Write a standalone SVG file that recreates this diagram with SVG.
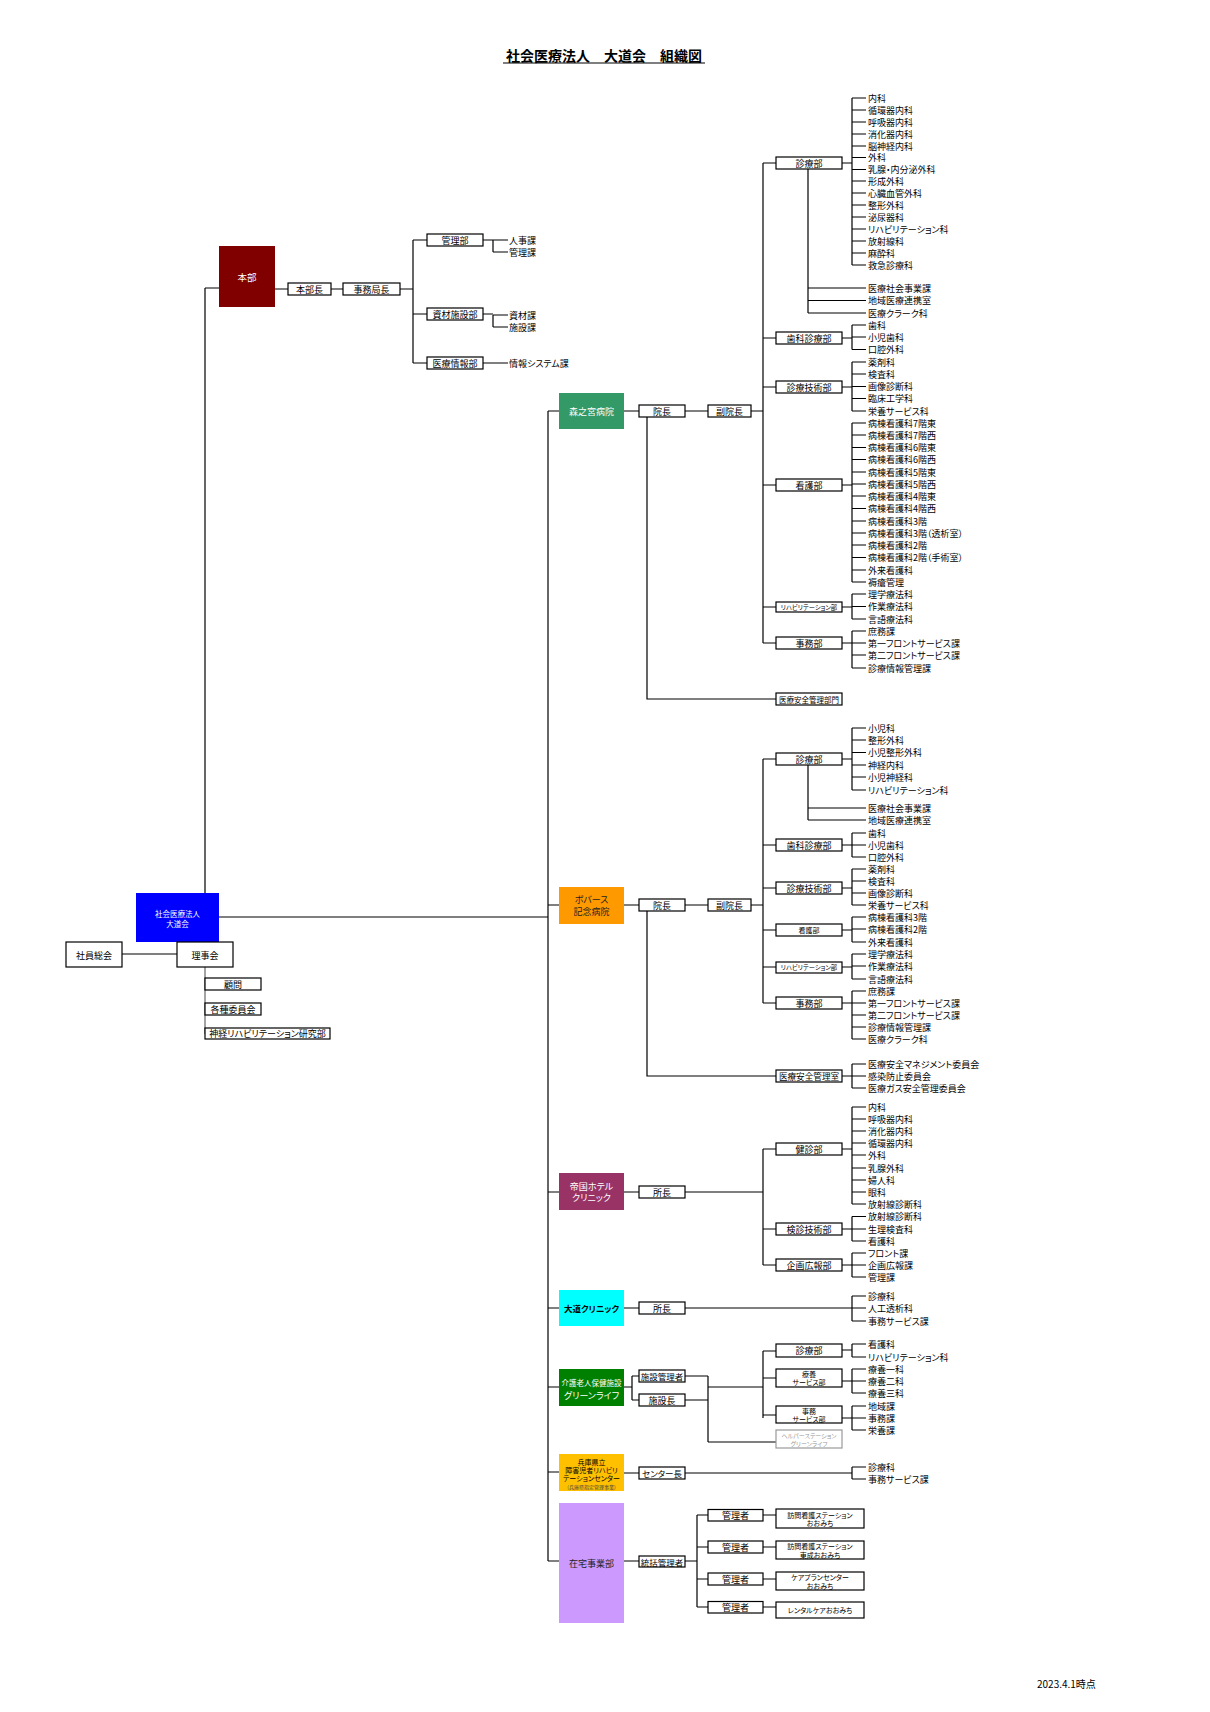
<svg xmlns="http://www.w3.org/2000/svg" width="1210" height="1712" viewBox="0 0 1210 1712">
<style>
.ln{stroke:#000;stroke-width:1.2;fill:none}
.bx{fill:#fff;stroke:#000;stroke-width:1.2}
text{font-family:"Noto Sans CJK JP","Liberation Sans",sans-serif;font-size:9px;fill:#000;dominant-baseline:central;font-feature-settings:"palt"}
.c{text-anchor:middle}
.w{fill:#fff}
.s7{font-size:7px}
.s65{font-size:6.3px}
</style>
<rect width="1210" height="1712" fill="#fff"/>
<g id="title">
<text x="604" y="55" class="c" style="font-size:14px;font-weight:bold;font-feature-settings:normal">社会医療法人　大道会　組織図</text>
<line x1="503" y1="63" x2="705" y2="63" stroke="#000" stroke-width="1.2"/>
</g>
<g id="connectors" class="ln">
<path d="M205,288V893M205,288H219M275,289H288M331,289H343M400,289H413M413,240V363M413,240H427M413,314H427M413,363H427"/>
<path d="M483,240H493M493,240V252M493,240H508M493,252H508M483,314H493M493,315V327M493,315H508M493,327H508M483,363H508"/>
<path d="M219,917H548M122,954H177"/>
<path d="M205,967V1034" stroke="#666"/>
<path d="M548,411V1561M548,411H559M548,905H559M548,1192H559M548,1308H559M548,1387H559M548,1472H559M548,1561H559"/>
<path d="M624,411H639M685,411H708M751,411H763M763,163V643M763,163H776M763,338H776M763,387H776M763,485H776M763,607H776M763,643H776M647,417V699H776"/>
<path d="M842,163H852M842,338H852M842,387H852M842,485H852M842,607H852M842,643H852M808,169V313M808,288H866M808,300.5H866M808,313H866"/>
<path d="M852,98V265M852,98H866M852,110H866M852,122H866M852,134H866M852,146H866M852,157.5H866M852,169.5H866M852,181H866M852,193H866M852,205H866M852,217H866M852,229H866M852,241H866M852,253H866M852,265H866"/>
<path d="M852,325V349.5M852,325H866M852,337H866M852,349.5H866M852,362V411M852,362H866M852,374H866M852,386.5H866M852,398.5H866M852,411H866"/>
<path d="M852,423V582M852,423H866M852,435H866M852,447.5H866M852,459.5H866M852,472H866M852,484H866M852,496H866M852,508.5H866M852,521H866M852,533H866M852,545H866M852,557.5H866M852,570H866M852,582H866"/>
<path d="M852,594V619M852,594H866M852,606.5H866M852,619H866M852,631V668M852,631H866M852,643H866M852,655H866M852,668H866"/>
<path d="M624,905H639M685,905H708M751,905H763M763,759V1003M763,759H776M763,845H776M763,888H776M763,930H776M763,967H776M763,1003H776M647,911V1076H776"/>
<path d="M842,759H852M842,845H852M842,888H852M842,930H852M842,967H852M842,1003H852M842,1076H852M808,765V820M808,808H866M808,820H866"/>
<path d="M852,728V790M852,728H866M852,740H866M852,752.5H866M852,765H866M852,777H866M852,790H866M852,833V857M852,833H866M852,845H866M852,857H866M852,869V905M852,869H866M852,881H866M852,893H866M852,905H866"/>
<path d="M852,917V942M852,917H866M852,929H866M852,942H866M852,954V979M852,954H866M852,966H866M852,979H866M852,991V1039M852,991H866M852,1003H866M852,1015H866M852,1027H866M852,1039H866M852,1064V1088M852,1064H866M852,1076H866M852,1088H866"/>
<path d="M624,1192H639M685,1192H763M763,1149V1265M763,1149H776M763,1229H776M763,1265H776M842,1149H852M842,1229H852M842,1265H852"/>
<path d="M852,1107V1204M852,1107H866M852,1119H866M852,1131H866M852,1143H866M852,1155H866M852,1168H866M852,1180H866M852,1192H866M852,1204H866M852,1216.5V1241M852,1216.5H866M852,1229H866M852,1241H866M852,1253V1277M852,1253H866M852,1265H866M852,1277H866"/>
<path d="M624,1308H639M685,1308H852M852,1296V1321M852,1296H866M852,1308H866M852,1321H866"/>
<path d="M624,1387H632M632,1376V1400M632,1376H639M632,1400H639M685,1376H708M685,1400H708M708,1376V1442M708,1387H763M708,1442H776M763,1351V1418M763,1351H776M763,1378H776M763,1415H776M842,1350H852M842,1381H852M842,1418H852"/>
<path d="M852,1344V1357M852,1344H866M852,1357H866M852,1369V1393M852,1369H866M852,1381H866M852,1393H866M852,1406V1430M852,1406H866M852,1418H866M852,1430H866"/>
<path d="M624,1473H639M685,1473H852M852,1467V1479M852,1467H866M852,1479H866"/>
<path d="M624,1561H639M685,1561H697M697,1515V1607M697,1515H708M697,1547H708M697,1579H708M697,1607H708M763,1515H776M763,1547H776M763,1579H776M763,1607H776"/>
</g>
<g id="honbu">
<rect x="219" y="246" width="56" height="61" fill="#800000"/>
<text x="247" y="277" class="c w" style="font-size:9.5px">本部</text>
</g>
<g id="honbucho"><rect class="bx" x="288" y="283" width="43" height="12"/><text x="309.5" y="289" class="c">本部長</text></g>
<g id="jimukyokucho"><rect class="bx" x="343" y="283" width="57" height="12"/><text x="371.5" y="289" class="c">事務局長</text></g>
<g id="kanribu"><rect class="bx" x="427" y="234" width="56" height="12"/><text x="455" y="240" class="c">管理部</text></g>
<g id="shizaishisetsubu"><rect class="bx" x="427" y="308" width="56" height="12"/><text x="455" y="314" class="c">資材施設部</text></g>
<g id="iryojohobu"><rect class="bx" x="427" y="357" width="56" height="12"/><text x="455" y="363" class="c">医療情報部</text></g>
<g id="honbu-list">
<text x="509" y="240">人事課</text><text x="509" y="252">管理課</text>
<text x="509" y="315">資材課</text><text x="509" y="327">施設課</text>
<text x="509" y="363">情報システム課</text>
</g>
<g id="hojin">
<rect x="136" y="893" width="83" height="49" fill="#0000ff"/>
<text x="177.5" y="913" class="c w" style="font-size:7.5px">社会医療法人</text>
<text x="177.5" y="923" class="c w" style="font-size:7.5px">大道会</text>
</g>
<g id="rijikai"><rect class="bx" x="177" y="942" width="56" height="25"/><text x="205" y="955" class="c">理事会</text></g>
<g id="shaintokai"><rect class="bx" x="66" y="942" width="56" height="25"/><text x="94" y="955" class="c">社員総会</text></g>
<g id="komon"><rect class="bx" x="205" y="978" width="56" height="12"/><text x="233" y="984" class="c">顧問</text></g>
<g id="iinkai"><rect class="bx" x="205" y="1003" width="56" height="12"/><text x="233" y="1009" class="c">各種委員会</text></g>
<g id="kenkyubu"><rect class="bx" x="205" y="1028" width="125" height="11"/><text x="267.5" y="1033.5" class="c">神経リハビリテーション研究部</text></g>

<g id="morinomiya">
<rect x="559" y="393" width="65" height="36" fill="#339966"/>
<text x="591.5" y="411" class="c w">森之宮病院</text>
</g>
<g id="h1-incho"><rect class="bx" x="639" y="405" width="46" height="12"/><text x="662" y="411" class="c">院長</text></g>
<g id="h1-fukuincho"><rect class="bx" x="708" y="405" width="43" height="12"/><text x="729.5" y="411" class="c">副院長</text></g>
<g id="h1-shinryobu"><rect class="bx" x="776" y="157" width="66" height="12"/><text x="809" y="163" class="c">診療部</text></g>
<g id="h1-shika"><rect class="bx" x="776" y="332" width="66" height="12"/><text x="809" y="338" class="c">歯科診療部</text></g>
<g id="h1-gijutsu"><rect class="bx" x="776" y="381" width="66" height="12"/><text x="809" y="387" class="c">診療技術部</text></g>
<g id="h1-kango"><rect class="bx" x="776" y="479" width="66" height="12"/><text x="809" y="485" class="c">看護部</text></g>
<g id="h1-reha"><rect class="bx" x="776" y="602" width="66" height="10"/><text x="809" y="607" class="c s65">リハビリテーション部</text></g>
<g id="h1-jimu"><rect class="bx" x="776" y="637" width="66" height="12"/><text x="809" y="643" class="c">事務部</text></g>
<g id="h1-anzen"><rect class="bx" x="776" y="693" width="66" height="12"/><text x="809" y="699" class="c" style="font-size:7.5px">医療安全管理部門</text></g>
<g id="h1-list">
<text x="868" y="98">内科</text><text x="868" y="110">循環器内科</text><text x="868" y="122">呼吸器内科</text><text x="868" y="134">消化器内科</text><text x="868" y="146">脳神経内科</text><text x="868" y="157.5">外科</text><text x="868" y="169.5">乳腺・内分泌外科</text><text x="868" y="181">形成外科</text><text x="868" y="193">心臓血管外科</text><text x="868" y="205">整形外科</text><text x="868" y="217">泌尿器科</text><text x="868" y="229">リハビリテーション科</text><text x="868" y="241">放射線科</text><text x="868" y="253">麻酔科</text><text x="868" y="265">救急診療科</text>
<text x="868" y="288">医療社会事業課</text><text x="868" y="300.5">地域医療連携室</text><text x="868" y="313">医療クラーク科</text>
<text x="868" y="325">歯科</text><text x="868" y="337">小児歯科</text><text x="868" y="349.5">口腔外科</text>
<text x="868" y="362">薬剤科</text><text x="868" y="374">検査科</text><text x="868" y="386.5">画像診断科</text><text x="868" y="398.5">臨床工学科</text><text x="868" y="411">栄養サービス科</text>
<text x="868" y="423">病棟看護科7階東</text><text x="868" y="435">病棟看護科7階西</text><text x="868" y="447.5">病棟看護科6階東</text><text x="868" y="459.5">病棟看護科6階西</text><text x="868" y="472">病棟看護科5階東</text><text x="868" y="484">病棟看護科5階西</text><text x="868" y="496">病棟看護科4階東</text><text x="868" y="508.5">病棟看護科4階西</text><text x="868" y="521">病棟看護科3階</text><text x="868" y="533">病棟看護科3階（透析室）</text><text x="868" y="545">病棟看護科2階</text><text x="868" y="557.5">病棟看護科2階（手術室）</text><text x="868" y="570">外来看護科</text><text x="868" y="582">褥瘡管理</text>
<text x="868" y="594">理学療法科</text><text x="868" y="606.5">作業療法科</text><text x="868" y="619">言語療法科</text>
<text x="868" y="631">庶務課</text><text x="868" y="643">第一フロントサービス課</text><text x="868" y="655">第二フロントサービス課</text><text x="868" y="668">診療情報管理課</text>
</g>

<g id="bobath">
<rect x="559" y="887" width="65" height="37" fill="#ff9900"/>
<text x="591.5" y="899.5" class="c" style="fill:#222">ボバース</text>
<text x="591.5" y="911.5" class="c" style="fill:#222">記念病院</text>
</g>
<g id="h2-incho"><rect class="bx" x="639" y="899" width="46" height="12"/><text x="662" y="905" class="c">院長</text></g>
<g id="h2-fukuincho"><rect class="bx" x="708" y="899" width="43" height="12"/><text x="729.5" y="905" class="c">副院長</text></g>
<g id="h2-shinryobu"><rect class="bx" x="776" y="753" width="66" height="12"/><text x="809" y="759" class="c">診療部</text></g>
<g id="h2-shika"><rect class="bx" x="776" y="839" width="66" height="12"/><text x="809" y="845" class="c">歯科診療部</text></g>
<g id="h2-gijutsu"><rect class="bx" x="776" y="882" width="66" height="12"/><text x="809" y="888" class="c">診療技術部</text></g>
<g id="h2-kango"><rect class="bx" x="776" y="924" width="66" height="12"/><text x="809" y="930" class="c s7">看護部</text></g>
<g id="h2-reha"><rect class="bx" x="776" y="962" width="66" height="11"/><text x="809" y="967.5" class="c s65">リハビリテーション部</text></g>
<g id="h2-jimu"><rect class="bx" x="776" y="997" width="66" height="12"/><text x="809" y="1003" class="c">事務部</text></g>
<g id="h2-anzen"><rect class="bx" x="776" y="1070" width="66" height="12"/><text x="809" y="1076" class="c" style="font-size:8.6px">医療安全管理室</text></g>
<g id="h2-list">
<text x="868" y="728">小児科</text><text x="868" y="740">整形外科</text><text x="868" y="752.5">小児整形外科</text><text x="868" y="765">神経内科</text><text x="868" y="777">小児神経科</text><text x="868" y="790">リハビリテーション科</text>
<text x="868" y="808">医療社会事業課</text><text x="868" y="820">地域医療連携室</text>
<text x="868" y="833">歯科</text><text x="868" y="845">小児歯科</text><text x="868" y="857">口腔外科</text>
<text x="868" y="869">薬剤科</text><text x="868" y="881">検査科</text><text x="868" y="893">画像診断科</text><text x="868" y="905">栄養サービス科</text>
<text x="868" y="917">病棟看護科3階</text><text x="868" y="929">病棟看護科2階</text><text x="868" y="942">外来看護科</text>
<text x="868" y="954">理学療法科</text><text x="868" y="966">作業療法科</text><text x="868" y="979">言語療法科</text>
<text x="868" y="991">庶務課</text><text x="868" y="1003">第一フロントサービス課</text><text x="868" y="1015">第二フロントサービス課</text><text x="868" y="1027">診療情報管理課</text><text x="868" y="1039">医療クラーク科</text>
<text x="868" y="1064">医療安全マネジメント委員会</text><text x="868" y="1076">感染防止委員会</text><text x="868" y="1088">医療ガス安全管理委員会</text>
</g>

<g id="teikoku">
<rect x="559" y="1173" width="65" height="37" fill="#993366"/>
<text x="591.5" y="1186" class="c w">帝国ホテル</text>
<text x="591.5" y="1197.5" class="c w">クリニック</text>
</g>
<g id="teikoku-shocho"><rect class="bx" x="639" y="1186" width="46" height="12"/><text x="662" y="1192" class="c">所長</text></g>
<g id="kenshinbu"><rect class="bx" x="776" y="1143" width="66" height="12"/><text x="809" y="1149" class="c">健診部</text></g>
<g id="kenshingijutsubu"><rect class="bx" x="776" y="1223" width="66" height="12"/><text x="809" y="1229" class="c">検診技術部</text></g>
<g id="kikakukohobu"><rect class="bx" x="776" y="1259" width="66" height="12"/><text x="809" y="1265" class="c">企画広報部</text></g>
<g id="teikoku-list">
<text x="868" y="1107">内科</text><text x="868" y="1119">呼吸器内科</text><text x="868" y="1131">消化器内科</text><text x="868" y="1143">循環器内科</text><text x="868" y="1155">外科</text><text x="868" y="1168">乳腺外科</text><text x="868" y="1180">婦人科</text><text x="868" y="1192">眼科</text><text x="868" y="1204">放射線診断科</text>
<text x="868" y="1216.5">放射線診断科</text><text x="868" y="1229">生理検査科</text><text x="868" y="1241">看護科</text>
<text x="868" y="1253">フロント課</text><text x="868" y="1265">企画広報課</text><text x="868" y="1277">管理課</text>
</g>

<g id="daido">
<rect x="559" y="1290" width="65" height="36" fill="#00ffff"/>
<text x="591.5" y="1308" class="c" style="font-size:8.5px;font-weight:bold">大道クリニック</text>
</g>
<g id="daido-shocho"><rect class="bx" x="639" y="1302" width="46" height="12"/><text x="662" y="1308" class="c">所長</text></g>
<g id="daido-list"><text x="868" y="1296">診療科</text><text x="868" y="1308">人工透析科</text><text x="868" y="1321">事務サービス課</text></g>

<g id="greenlife">
<rect x="559" y="1369" width="65" height="37" fill="#008000"/>
<text x="591.5" y="1382" class="c w" style="font-size:7.5px">介護老人保健施設</text>
<text x="591.5" y="1395" class="c w" style="font-size:9px">グリーンライフ</text>
</g>
<g id="gl-kanrisha"><rect class="bx" x="639" y="1370" width="46" height="12"/><text x="662" y="1376" class="c" style="font-size:8.5px">施設管理者</text></g>
<g id="gl-shisetsucho"><rect class="bx" x="639" y="1394" width="46" height="12"/><text x="662" y="1400" class="c">施設長</text></g>
<g id="gl-shinryobu"><rect class="bx" x="776" y="1344" width="66" height="13"/><text x="809" y="1350.5" class="c">診療部</text></g>
<g id="gl-ryoyo"><rect class="bx" x="776" y="1369" width="66" height="18"/><text x="809" y="1374" class="c s7">療養</text><text x="809" y="1382" class="c s7">サービス部</text></g>
<g id="gl-jimu"><rect class="bx" x="776" y="1406" width="66" height="17"/><text x="809" y="1410.5" class="c s7">事務</text><text x="809" y="1418.5" class="c s7">サービス部</text></g>
<g id="gl-helper"><rect x="776" y="1430" width="66" height="18" fill="#fff" stroke="#999" stroke-width="1.2"/><text x="809" y="1435.5" class="c" style="font-size:6px;fill:#999">ヘルパーステーション</text><text x="809" y="1443.5" class="c" style="font-size:6px;fill:#999">グリーンライフ</text></g>
<g id="gl-list">
<text x="868" y="1344">看護科</text><text x="868" y="1357">リハビリテーション科</text>
<text x="868" y="1369">療養一科</text><text x="868" y="1381">療養二科</text><text x="868" y="1393">療養三科</text>
<text x="868" y="1406">地域課</text><text x="868" y="1418">事務課</text><text x="868" y="1430">栄養課</text>
</g>

<g id="hyogo">
<rect x="559" y="1454" width="65" height="37" fill="#ffc000"/>
<text x="591.5" y="1462" class="c s7">兵庫県立</text>
<text x="591.5" y="1470" class="c s7">障害児者リハビリ</text>
<text x="591.5" y="1478" class="c s7">テーションセンター</text>
<text x="591.5" y="1486" class="c" style="font-size:5px;fill:#444">(兵庫県指定管理事業)</text>
</g>
<g id="hyogo-centercho"><rect class="bx" x="639" y="1467" width="46" height="12"/><text x="662" y="1473" class="c" style="font-size:8.5px">センター長</text></g>
<g id="hyogo-list"><text x="868" y="1467">診療科</text><text x="868" y="1479">事務サービス課</text></g>

<g id="zaitaku">
<rect x="559" y="1503" width="65" height="120" fill="#cc99ff"/>
<text x="591.5" y="1563" class="c" style="fill:#222">在宅事業部</text>
</g>
<g id="zt-tokatsu"><rect class="bx" x="639" y="1556" width="46" height="11"/><text x="662" y="1561.5" class="c" style="font-size:8.5px">統括管理者</text></g>
<g id="zt-kanrisha1"><rect class="bx" x="708" y="1509.5" width="55" height="11.5"/><text x="735.5" y="1515.2" class="c">管理者</text></g>
<g id="zt-kanrisha2"><rect class="bx" x="708" y="1541" width="55" height="12"/><text x="735.5" y="1547" class="c">管理者</text></g>
<g id="zt-kanrisha3"><rect class="bx" x="708" y="1573" width="55" height="12"/><text x="735.5" y="1579" class="c">管理者</text></g>
<g id="zt-kanrisha4"><rect class="bx" x="708" y="1601.5" width="55" height="11.5"/><text x="735.5" y="1607.2" class="c">管理者</text></g>
<g id="zt-houmon"><rect class="bx" x="776" y="1509" width="88" height="19"/><text x="820" y="1514.5" class="c s7">訪問看護ステーション</text><text x="820" y="1523" class="c s7">おおみち</text></g>
<g id="zt-higashinari"><rect class="bx" x="776" y="1541" width="88" height="18"/><text x="820" y="1546" class="c s7">訪問看護ステーション</text><text x="820" y="1554.5" class="c s7">東成おおみち</text></g>
<g id="zt-careplan"><rect class="bx" x="776" y="1572" width="88" height="18"/><text x="820" y="1577" class="c s7">ケアプランセンター</text><text x="820" y="1585.5" class="c s7">おおみち</text></g>
<g id="zt-rental"><rect class="bx" x="776" y="1602" width="88" height="16"/><text x="820" y="1610" class="c s7">レンタルケアおおみち</text></g>

<text x="1037" y="1683" style="font-size:10px">2023.4.1時点</text>
</svg>
